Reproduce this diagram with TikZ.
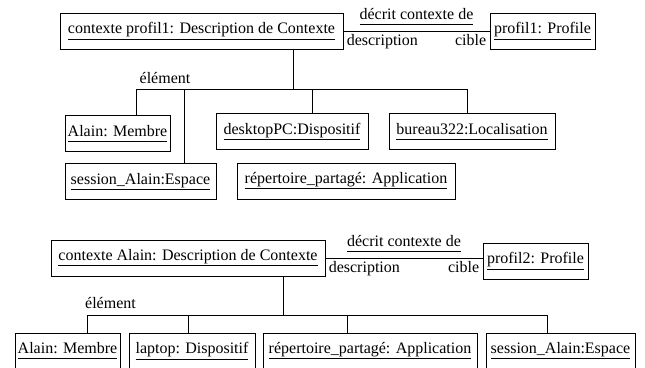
\documentclass[tikz,border=0pt]{standalone}
\usepackage{fontspec}
\setmainfont{Liberation Serif}
\newcommand{\objname}[1]{\underline{#1\vphantom{p}}}
\tikzset{
  objbox/.style={draw, line width=0.8pt, minimum width=#1, minimum height=36pt, inner sep=0pt, font=\fontsize{16}{19}\selectfont},
  lbl/.style={inner sep=2pt, font=\fontsize{16}{19}\selectfont},
  link/.style={line width=0.8pt},
}
\begin{document}
\begin{tikzpicture}[x=1pt,y=-1pt]
\useasboundingbox[fill=white] (0,0) rectangle (645,367);
% premier contexte
\node[objbox=283pt] (ctx1) at (201.5,31) {\objname{contexte profil1: Description de Contexte}};
\node[objbox=105pt] (prof1) at (542.5,31) {\objname{profil1: Profile}};
\draw[link] (ctx1.east) -- node[lbl,above=4pt] {\objname{décrit contexte de}}
  node[lbl,pos=0,below right=1pt] {description} node[lbl,pos=1,below left=1pt] {cible} (prof1.west);
\node[objbox=105pt] (alain1) at (117.5,133.5) {\objname{Alain: Membre}};
\node[objbox=151pt] (session1) at (140.5,181.5) {\objname{session\_Alain:Espace}};
\node[objbox=152pt] (desktop1) at (292,131.5) {\objname{desktopPC:Dispositif}};
\node[objbox=166pt] (bureau1) at (472,131.5) {\objname{bureau322:Localisation}};
\node[objbox=218pt] (rep1) at (346,181) {\objname{répertoire\_partagé: Application}};
\coordinate (bus1) at (293,89);
\node[lbl] (elem1) at (165,78) {élément};
\draw[link] (ctx1.south -| bus1) -- (bus1);
\foreach \n/\s in {alain1/18.5, session1/43.5, desktop1/20, bureau1/-5} {
    \draw[link] ([xshift=\s pt]\n.north) |- (bus1);
  }
% second contexte
\node[objbox=274pt] (ctx2) at (188,258) {\objname{contexte Alain: Description de Contexte}};
\node[objbox=105pt] (prof2) at (535.5,261) {\objname{profil2: Profile}};
\draw[link] (ctx2.east) -- node[lbl,above=4pt] {\objname{décrit contexte de}}
  node[lbl,pos=0,below right=1pt] {description} node[lbl,pos=1,below left=1pt] {cible} (ctx2.east -| prof2.west);
\node[objbox=105pt] (alain2) at (67.5,351) {\objname{Alain: Membre}};
\node[objbox=126pt] (laptop2) at (192,351) {\objname{laptop: Dispositif}};
\node[objbox=214pt] (rep2) at (370,351) {\objname{répertoire\_partagé: Application}};
\node[objbox=149pt] (session2) at (560.5,351) {\objname{session\_Alain:Espace}};
\coordinate (bus2) at (283,315);
\node[lbl] (elem2) at (110.5,303) {élément};
\draw[link] (ctx2.south -| bus2) -- (bus2);
\foreach \n/\s in {alain2/19.5, laptop2/-4, rep2/-23, session2/-13.5} {
    \draw[link] ([xshift=\s pt]\n.north) |- (bus2);
  }
\end{tikzpicture}
\end{document}
